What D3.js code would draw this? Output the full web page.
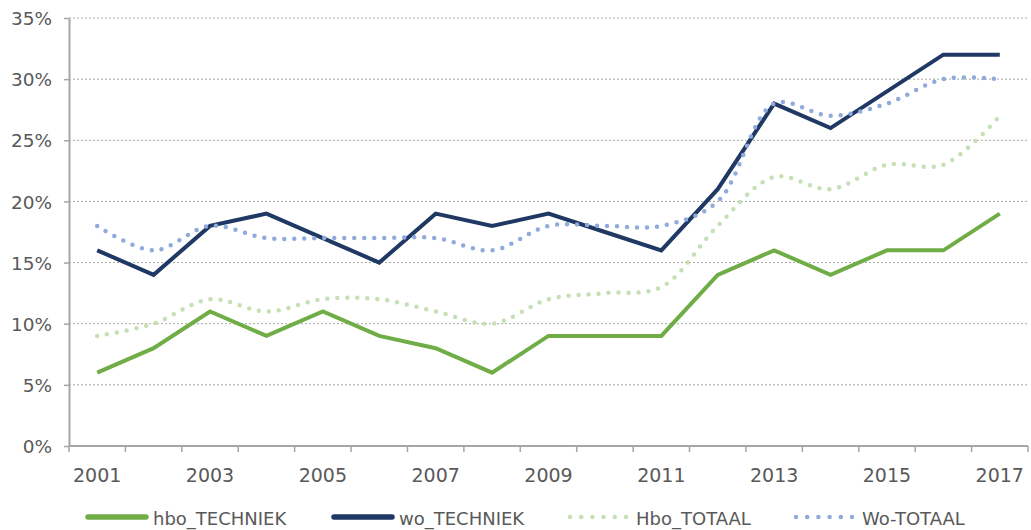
<!DOCTYPE html>
<html><head><meta charset="utf-8">
<script src="https://cdn.jsdelivr.net/npm/d3@7"></script>
<style>body{margin:0;background:#fff}svg{display:block}text{font-family:"DejaVu Sans",Verdana,sans-serif;fill:#595959}</style>
</head><body><svg id="c" width="1031" height="530"></svg>
<script>
const years = ["2001","2002","2003","2004","2005","2006","2007","2008","2009","2010","2011","2012","2013","2014","2015","2016","2017"];
const hboTechniek = [6,8,11,9,11,9,8,6,9,9,9,14,16,14,16,16,19];
const woTechniek = [16,14,18,19,17,15,19,18,19,17.5,16,21,28,26,29,32,32];
const hboTotaal = [9,10,12,11,12,12,11,10,12,12.5,13,18,22,21,23,23,27];
const woTotaal = [18,16,18,17,17,17,17,16,18,18,18,20,28,27,28,30,30];
const yTicks = [0,5,10,15,20,25,30,35];
const xLabels = ["2001","2003","2005","2007","2009","2011","2013","2015","2017"];

const series = [
  {name:"hbo_TECHNIEK", values:hboTechniek, color:"#70AD47", dotted:false},
  {name:"wo_TECHNIEK", values:woTechniek, color:"#1F3864", dotted:false},
  {name:"Hbo_TOTAAL", values:hboTotaal, color:"#C5E0B4", dotted:true},
  {name:"Wo-TOTAAL", values:woTotaal, color:"#8FAADC", dotted:true}
];

const svg = d3.select("#c");
const L=69, R=1028, T=18, B=446;
const x = d3.scaleBand().domain(years).range([L,R]);
const y = d3.scaleLinear().domain([0,35]).range([B,T]);
const cx = d => x(d)+x.bandwidth()/2;

// gridlines
svg.append("g").selectAll("line").data(yTicks.filter(v=>v>0)).join("line")
  .attr("x1",L).attr("x2",R).attr("y1",d=>y(d)).attr("y2",d=>y(d))
  .attr("stroke","#a6a6a6").attr("stroke-width",1).attr("stroke-dasharray","2,2");

// y axis
const ya = svg.append("g").attr("transform",`translate(${L},0)`)
  .call(d3.axisLeft(y).tickValues(yTicks).tickFormat(d=>d+"%").tickSize(5).tickSizeOuter(0));
ya.select(".domain").attr("stroke","#a6a6a6").attr("stroke-width",2);
ya.selectAll(".tick line").attr("stroke","#a6a6a6").attr("stroke-width",1.5);
ya.selectAll("text").attr("font-size",18.5).attr("fill","#595959").attr("x",-17).attr("dy","0.36em")
  .style("font-family","DejaVu Sans, Verdana, sans-serif");

// x axis
const xa = svg.append("g").attr("transform",`translate(0,${B})`);
xa.append("line").attr("x1",L).attr("x2",R).attr("y1",0).attr("y2",0).attr("stroke","#a6a6a6").attr("stroke-width",2);
const bounds = years.map(d=>x(d)).concat([R]);
xa.selectAll("line.t").data(bounds).join("line").attr("class","t")
  .attr("x1",d=>d).attr("x2",d=>d).attr("y1",0).attr("y2",6).attr("stroke","#a6a6a6").attr("stroke-width",1.5);
xa.selectAll("text").data(xLabels).join("text")
  .attr("x",d=>cx(d)).attr("y",36).attr("text-anchor","middle").attr("font-size",19).text(d=>d);

// lines
series.forEach(s=>{
  const line = d3.line().x((d,i)=>cx(years[i])).y(d=>y(d))
    .curve(s.dotted ? d3.curveCatmullRom.alpha(0.5) : d3.curveLinear);
  const p = svg.append("path").datum(s.values).attr("d",line).attr("fill","none")
    .attr("stroke",s.color).attr("stroke-width",4);
  if(s.dotted){ p.attr("stroke-dasharray","0,10").attr("stroke-linecap","round").attr("stroke-width",4.5); }
  else { p.attr("stroke-linejoin","miter"); }
});

// legend
const legX = [88,334,570,796];
const lg = svg.append("g");
series.forEach((s,i)=>{
  const g = lg.append("g").attr("transform",`translate(${legX[i]},517)`);
  const ln = g.append("line").attr("x1",0).attr("x2",s.dotted?56:58).attr("y1",0).attr("y2",0)
    .attr("stroke",s.color).attr("stroke-width",s.dotted?4.5:5.5).attr("stroke-linecap","round");
  if(s.dotted) ln.attr("stroke-dasharray","0,11.2");
  g.append("text").attr("x",s.dotted?66:65).attr("y",7.5).attr("font-size",18).text(s.name);
});
</script></body></html>
